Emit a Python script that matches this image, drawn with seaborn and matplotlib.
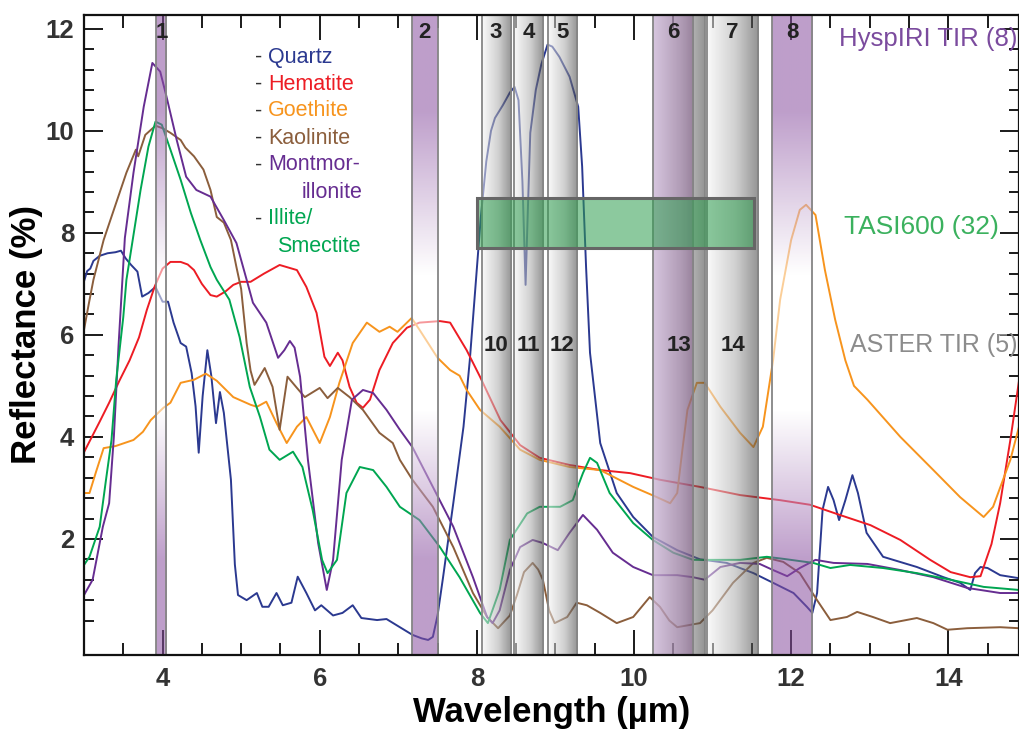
import numpy as np
import pandas as pd
import matplotlib
matplotlib.use("Agg")
import matplotlib.pyplot as plt
import matplotlib.transforms as mtransforms
from matplotlib.patches import Rectangle
from matplotlib.ticker import MultipleLocator, FixedLocator
import seaborn as sns

# ---------------- data ----------------
quartz_wl = [3.0, 3.04, 3.08, 3.12, 3.2, 3.3, 3.4, 3.47, 3.53, 3.6, 3.68, 3.74, 3.82, 3.91, 4.0, 4.07, 4.14, 4.23,
             4.3, 4.37, 4.42, 4.46, 4.51, 4.57, 4.62, 4.68, 4.73, 4.78, 4.87, 4.92, 4.96, 5.07, 5.2, 5.27, 5.35, 5.45,
             5.53, 5.64, 5.72, 5.83, 5.94, 6.02, 6.17, 6.29, 6.42, 6.53, 6.73, 6.85, 7.02, 7.18, 7.3, 7.38, 7.44, 7.5,
             7.57, 7.7, 7.83, 7.91, 8.0, 8.05, 8.12, 8.18, 8.23, 8.33, 8.42, 8.48, 8.53, 8.58, 8.62, 8.65, 8.68, 8.75,
             8.82, 8.9, 8.96, 9.05, 9.18, 9.29, 9.34, 9.39, 9.44, 9.57, 9.78, 9.99, 10.24, 10.55, 10.84, 11.18, 11.52,
             11.77, 12.03, 12.2, 12.27, 12.33, 12.4, 12.47, 12.54, 12.61, 12.69, 12.78, 12.85, 12.96, 13.17, 13.6,
             13.94, 14.15, 14.28, 14.34, 14.41, 14.5, 14.66, 14.9]
quartz_r = [7.05, 7.25, 7.3, 7.45, 7.55, 7.6, 7.62, 7.65, 7.5, 7.37, 7.24, 6.75, 6.82, 6.94, 6.65, 6.65, 6.24, 5.84,
            5.77, 5.25, 4.6, 3.69, 4.8, 5.7, 5.2, 4.27, 4.88, 4.47, 3.16, 1.5, 0.9, 0.8, 0.94, 0.67, 0.67, 0.94,
            0.7, 0.75, 1.26, 0.94, 0.6, 0.7, 0.5, 0.55, 0.7, 0.45, 0.41, 0.43, 0.27, 0.12, 0.05, 0.02, 0.08, 0.5,
            1.25, 2.7, 4.2, 5.5, 7.3, 8.3, 9.4, 10.0, 10.25, 10.5, 10.75, 10.86, 10.6, 9.0, 6.98, 8.5, 9.96, 10.8,
            11.3, 11.69, 11.65, 11.45, 11.06, 10.47, 9.3, 7.33, 5.65, 3.88, 2.9, 2.43, 2.04, 1.78, 1.6, 1.53, 1.33,
            1.14, 0.94, 0.67, 0.55, 0.94, 2.57, 3.02, 2.76, 2.37, 2.76, 3.25, 2.9, 2.12, 1.65, 1.45,
            1.25, 1.14, 1.0, 1.33, 1.45, 1.43, 1.29, 1.23]

hematite_wl = [3.0, 3.1, 3.2, 3.32, 3.45, 3.58, 3.7, 3.8, 3.9, 4.0, 4.1, 4.23, 4.32, 4.4, 4.5, 4.61, 4.69, 4.8, 4.9,
               5.0, 5.12, 5.29, 5.49, 5.71, 5.83, 5.96, 6.06, 6.13, 6.23, 6.29, 6.38, 6.47, 6.55, 6.64, 6.76, 6.93,
               7.11, 7.27, 7.53, 7.66, 7.87, 8.04, 8.3, 8.55, 8.8, 9.18, 9.57, 9.95, 10.33, 10.84, 11.35, 11.86, 12.24,
               12.62, 13.01, 13.39, 13.77, 14.03, 14.28, 14.41, 14.55, 14.66, 14.79, 14.9]
hematite_r = [3.7, 4.0, 4.3, 4.67, 5.1, 5.5, 5.95, 6.49, 6.95, 7.3, 7.43, 7.43, 7.38, 7.27, 7.0, 6.78, 6.75, 6.85, 6.98,
              7.04, 7.04, 7.2, 7.37, 7.27, 6.94, 6.43, 5.57, 5.39, 5.65, 5.5, 4.98, 4.67, 4.57, 4.73, 5.31, 5.84,
              6.14, 6.24, 6.27, 6.24, 5.7, 5.18, 4.33, 3.84, 3.59, 3.45, 3.35, 3.29, 3.16, 3.02, 2.86, 2.76, 2.67,
              2.47, 2.27, 1.98, 1.59, 1.35, 1.25, 1.27, 1.9, 2.7, 3.94, 5.1]

goethite_wl = [3.0, 3.07, 3.15, 3.25, 3.4, 3.63, 3.75, 3.85, 4.01, 4.1, 4.23, 4.4, 4.55, 4.69, 4.9, 5.12, 5.2, 5.32,
               5.45, 5.58, 5.71, 5.83, 6.0, 6.13, 6.25, 6.42, 6.6, 6.76, 6.89, 6.99, 7.17, 7.27, 7.5, 7.66, 7.78, 7.87,
               8.04, 8.29, 8.55, 8.8, 9.18, 9.57, 9.99, 10.29, 10.46, 10.55, 10.62, 10.68, 10.8, 10.9, 11.1, 11.35,
               11.52, 11.64, 11.77, 11.86, 12.0, 12.11, 12.19, 12.31, 12.43, 12.56, 12.69, 12.8, 12.97, 13.39, 13.81,
               14.15, 14.45, 14.57, 14.79, 14.9]
goethite_r = [2.9, 2.9, 3.3, 3.78, 3.82, 3.94, 4.1, 4.33, 4.57, 4.67, 5.06, 5.12, 5.24, 5.1, 4.78, 4.63, 4.59, 4.69,
              4.27, 3.88, 4.2, 4.39, 3.88, 4.39, 5.06, 5.84, 6.24, 6.06, 6.16, 6.06, 6.33, 6.1, 5.55, 5.31, 5.2, 4.92,
              4.53, 4.2, 3.75, 3.55, 3.41, 3.35, 3.02, 2.82, 2.7, 2.9, 3.8, 4.53, 5.06, 5.06, 4.59, 4.08,
              3.8, 4.2, 5.5, 6.69, 7.86, 8.45, 8.55, 8.35, 7.27, 6.3, 5.5, 5.0, 4.73, 4.0, 3.35,
              2.82, 2.43, 2.63, 3.55, 4.2]

kaolinite_wl = [3.0, 3.06, 3.12, 3.25, 3.41, 3.54, 3.66, 3.69, 3.78, 3.91, 4.0, 4.1, 4.23, 4.29, 4.4, 4.52, 4.61, 4.69,
                4.78, 4.87, 4.94, 5.0, 5.07, 5.12, 5.17, 5.3, 5.4, 5.49, 5.59, 5.71, 5.81, 6.0, 6.1, 6.23, 6.38, 6.55,
                6.76, 6.93, 7.02, 7.18, 7.44, 7.7, 7.95, 8.13, 8.27, 8.42, 8.51, 8.6, 8.71, 8.78, 8.84, 8.92, 8.99,
                9.15, 9.27, 9.4, 9.57, 9.78, 9.99, 10.2, 10.33, 10.45, 10.55, 10.84, 11.0, 11.26, 11.52, 11.69, 11.9,
                12.11, 12.33, 12.5, 12.71, 12.84, 13.04, 13.26, 13.6, 13.81, 13.99, 14.24, 14.66, 14.9]
kaolinite_r = [6.1, 6.6, 7.08, 7.86, 8.59, 9.18, 9.63, 9.5, 9.92, 10.1, 10.05, 9.96, 9.82, 9.67, 9.5, 9.24, 8.84, 8.31,
               8.2, 7.86, 7.33, 6.9, 5.84, 5.3, 5.02, 5.35, 4.98, 4.14, 5.18, 4.96, 4.78, 4.96, 4.76, 4.96, 4.78, 4.53,
               4.08, 3.88, 3.55, 3.16, 2.63, 1.84, 0.94, 0.47, 0.25, 0.5, 0.9, 1.35, 1.53, 1.4, 1.2, 0.6, 0.35,
               0.47, 0.75, 0.7, 0.55, 0.35, 0.47, 0.86, 0.67, 0.4, 0.27, 0.35, 0.6, 1.14, 1.53, 1.63, 1.55,
               1.33, 0.8, 0.41, 0.47, 0.57, 0.47, 0.35, 0.45, 0.35, 0.22, 0.25, 0.27, 0.25]

montmor_wl = [3.0, 3.11, 3.24, 3.32, 3.38, 3.44, 3.52, 3.63, 3.76, 3.87, 3.97, 4.05, 4.18, 4.3, 4.43, 4.61, 4.78, 4.94,
              5.07, 5.15, 5.32, 5.47, 5.55, 5.62, 5.68, 5.75, 5.85, 5.98, 6.09, 6.17, 6.28, 6.41, 6.55, 6.68, 6.85,
              7.02, 7.18, 7.44, 7.7, 7.95, 8.13, 8.2, 8.29, 8.42, 8.55, 8.71, 8.84, 9.03, 9.18, 9.35, 9.53, 9.73,
              9.99, 10.24, 10.55, 10.75, 10.9, 11.1, 11.35, 11.6, 11.77, 11.95, 12.11, 12.31, 12.54, 12.97, 13.39,
              13.81, 14.24, 14.66, 14.9]
montmor_r = [0.9, 1.2, 2.24, 2.7, 4.0, 5.8, 7.9, 9.18, 10.47, 11.33, 11.16, 10.67, 9.82, 9.1, 8.84, 8.71, 8.25, 7.8,
             7.08, 6.63, 6.24, 5.55, 5.7, 5.88, 5.75, 5.18, 3.55, 1.92, 1.0, 1.59, 3.55, 4.73, 4.92, 4.86, 4.53,
             4.14, 3.8, 3.02, 2.24, 1.25, 0.47, 0.35, 0.6, 1.39, 1.84, 1.98, 1.92, 1.78, 2.12, 2.47, 2.18, 1.73,
             1.45, 1.29, 1.29, 1.25, 1.2, 1.45, 1.53, 1.51, 1.39, 1.27, 1.43, 1.59, 1.53, 1.51, 1.39,
             1.25, 1.04, 0.94, 0.94]

illite_wl = [3.0, 3.07, 3.2, 3.28, 3.35, 3.41, 3.5, 3.54, 3.72, 3.82, 3.91, 3.99, 4.1, 4.23, 4.36, 4.48, 4.61, 4.69,
             4.85, 4.98, 5.11, 5.24, 5.36, 5.49, 5.66, 5.78, 5.91, 6.03, 6.1, 6.22, 6.34, 6.51, 6.68, 6.85, 7.02,
             7.27, 7.53, 7.78, 8.04, 8.14, 8.29, 8.42, 8.64, 8.8, 9.06, 9.22, 9.35, 9.44, 9.53, 9.69, 9.99, 10.24,
             10.5, 10.75, 11.0, 11.35, 11.69, 11.9, 12.28, 12.5, 12.75, 13.17, 13.6, 14.03, 14.45, 14.9]
illite_r = [1.49, 1.65, 2.24, 3.16, 3.94, 5.12, 6.35, 7.08, 8.84, 9.69, 10.18, 10.12, 9.63, 9.04, 8.39, 7.86, 7.33,
            7.08, 6.69, 5.96, 4.98, 4.39, 3.75, 3.55, 3.71, 3.41, 2.57, 1.59, 1.33, 1.59, 2.9, 3.41, 3.35, 3.02,
            2.63, 2.37, 1.84, 1.25, 0.55, 0.35, 1.0, 1.98, 2.5, 2.63, 2.63, 2.76, 3.29, 3.59, 3.49, 2.9, 2.31,
            1.98, 1.73, 1.59, 1.59, 1.59, 1.65, 1.61, 1.53, 1.43, 1.49, 1.43, 1.33, 1.2, 1.06, 1.0]

minerals = ["Quartz", "Hematite", "Goethite", "Kaolinite", "Montmorillonite", "Illite/Smectite"]
mineral_colors = ["#2b3990", "#ed1c24", "#f7941d", "#8b5e3c", "#662d91", "#00a651"]

# HyspIRI TIR bands (8)
hyspiri_labels = ["1", "2", "3", "4", "5", "6", "7", "8"]
hyspiri_start = [3.92, 7.17, 8.06, 8.47, 8.90, 10.24, 10.93, 11.76]
hyspiri_end = [4.05, 7.50, 8.43, 8.84, 9.27, 10.75, 11.58, 12.27]
# ASTER TIR bands (5)
aster_labels = ["10", "11", "12", "13", "14"]
aster_start = [8.06, 8.47, 8.90, 10.24, 10.93]
aster_end = [8.43, 8.84, 9.27, 10.90, 11.58]
# TASI600 range (32 bands)
tasi_wl = [8.0, 11.53]
tasi_level = [7.7, 8.68]

x_ticks = [4, 6, 8, 10, 12, 14]
y_ticks = [2, 4, 6, 8, 10, 12]

# ---------------- style ----------------
sns.set_theme(style="ticks")
plt.rcParams["font.family"] = ["Liberation Sans", "DejaVu Sans"]

XLIM = (3.0, 14.9)
YLIM = (-0.275, 12.27)

fig = plt.figure(figsize=(10.2, 7.33), dpi=100)
ax = fig.add_axes([84 / 1020, 1 - 655 / 733, (1019 - 84) / 1020, (655 - 15) / 733])

# ---------------- curves ----------------
frames = []
for name, wl, r in zip(minerals,
                       [quartz_wl, hematite_wl, goethite_wl, kaolinite_wl, montmor_wl, illite_wl],
                       [quartz_r, hematite_r, goethite_r, kaolinite_r, montmor_r, illite_r]):
    frames.append(pd.DataFrame({"wl": wl, "refl": r, "mineral": name}))
df = pd.concat(frames, ignore_index=True)
sns.lineplot(data=df, x="wl", y="refl", hue="mineral", palette=dict(zip(minerals, mineral_colors)),
             estimator=None, sort=False, legend=False, lw=1.4, ax=ax, zorder=2)

# ---------------- bands ----------------
OVER_A = 0.55
purple = np.array([137, 79, 160]) / 255.0
white = np.ones(3)


def vertical_purple(x0, x1):
    ys = np.linspace(YLIM[1], YLIM[0], 400)
    t = np.interp(ys, [YLIM[0], 1.6, 4.5, 7.2, 10.4, YLIM[1]], [1, 1, 0, 0, 1, 1])
    rgb = t[:, None] * purple + (1 - t[:, None]) * white
    img = np.concatenate([rgb, np.full((len(ys), 1), OVER_A)], axis=1)[:, None, :]
    ax.imshow(img, extent=[x0, x1, YLIM[0], YLIM[1]], aspect="auto", origin="upper",
              interpolation="bilinear", zorder=3)


def horizontal_grad(x0, x1, stops, values, alpha):
    xs = np.linspace(0, 1, 200)
    rgb = np.stack([np.interp(xs, stops, [v[c] for v in values]) for c in range(3)], axis=1) / 255.0
    img = np.concatenate([rgb, np.full((len(xs), 1), alpha)], axis=1)[None, :, :]
    ax.imshow(img, extent=[x0, x1, YLIM[0], YLIM[1]], aspect="auto", origin="upper",
              interpolation="bilinear", zorder=3)


for a0, a1 in zip(aster_start, aster_end):
    horizontal_grad(a0, a1, [0, 0.55, 0.85, 1],
                    [(246, 246, 246), (170, 170, 170), (95, 95, 95), (60, 60, 60)], OVER_A)

hyspiri_purple = [True, True, False, False, False, True, False, True]
for lab, h0, h1, isp in zip(hyspiri_labels, hyspiri_start, hyspiri_end, hyspiri_purple):
    if not isp:
        continue
    if any(a0 <= h0 < a1 for a0, a1 in zip(aster_start, aster_end)):
        horizontal_grad(h0, h1, [0, 1], [(180, 146, 196), (128, 84, 136)], 0.5)
    else:
        vertical_purple(h0, h1)

edges = sorted(set(aster_start + aster_end + hyspiri_start + hyspiri_end))
for e in edges:
    ax.axvline(e, color="#858585", lw=1.3, zorder=4)

# TASI600 box
ax.add_patch(Rectangle((tasi_wl[0], tasi_level[0]), tasi_wl[1] - tasi_wl[0], tasi_level[1] - tasi_level[0],
                       facecolor=(0.18, 0.62, 0.31, 0.55), edgecolor="#666666", lw=2.2, zorder=5))

# ---------------- axes ----------------
ax.set_xlim(*XLIM)
ax.set_ylim(*YLIM)
ax.set_aspect("auto")
ax.set_xticks(x_ticks)
ax.set_yticks(y_ticks)
ax.xaxis.set_minor_locator(MultipleLocator(0.5))
ax.yaxis.set_minor_locator(FixedLocator(np.arange(0.4, 12.3, 0.4)))
ax.set_xticklabels([str(v) for v in x_ticks], fontsize=18.5, fontweight="bold", color="#333333")
ax.set_yticklabels([str(v) for v in y_ticks], fontsize=18.5, fontweight="bold", color="#333333")
ax.tick_params(axis="both", which="both", direction="in", top=True, right=True, width=1.4, color="#1a1a1a",
               zorder=6)
ax.tick_params(axis="x", which="major", length=18, pad=9)
ax.tick_params(axis="x", which="minor", length=9)
ax.tick_params(axis="y", which="major", length=14, pad=7)
ax.tick_params(axis="y", which="minor", length=7)
for s in ax.spines.values():
    s.set_linewidth(1.6)
    s.set_color("#111111")
    s.set_zorder(7)

ax.set_xlabel("Wavelength (µm)", fontsize=25, fontweight="bold", color="black", labelpad=3)
ax.set_ylabel("Reflectance (%)", fontsize=25, fontweight="bold", color="black", labelpad=2)

# band labels
trans = mtransforms.blended_transform_factory(ax.transData, ax.transAxes)
for lab, h0, h1 in zip(hyspiri_labels, hyspiri_start, hyspiri_end):
    ax.text((h0 + h1) / 2, 0.972, lab, transform=trans, ha="center", va="center",
            fontsize=16, fontweight="bold", color="#222222", zorder=8)
for lab, a0, a1 in zip(aster_labels, aster_start, aster_end):
    ax.text((a0 + a1) / 2, 0.484, lab, transform=trans, ha="center", va="center",
            fontsize=16, fontweight="bold", color="#222222", zorder=8)

# sensor labels
ax.text(0.998, 0.962, "HyspIRI TIR (8)", transform=ax.transAxes, ha="right", va="center",
        fontsize=18.5, color="#7b4b9e", zorder=8)
ax.text(0.979, 0.669, "TASI600 (32)", transform=ax.transAxes, ha="right", va="center",
        fontsize=19, color="#3bb15e", zorder=8)
ax.text(0.998, 0.484, "ASTER TIR (5)", transform=ax.transAxes, ha="right", va="center",
        fontsize=18, color="#8c8c8c", zorder=8)

# text legend
legend_lines = [("Quartz", None), ("Hematite", None), ("Goethite", None), ("Kaolinite", None),
                ("Montmor-", "illonite"), ("Illite/", "Smectite")]
ypix = 57
for (first, second), col in zip(legend_lines, mineral_colors):
    yf = (655 - ypix) / 640
    ax.text(0.183, yf, "-", transform=ax.transAxes, ha="left", va="center", fontsize=15.5, color="#333333",
            zorder=8)
    ax.text(0.1966, yf, first, transform=ax.transAxes, ha="left", va="center", fontsize=15.5, color=col, zorder=8)
    ypix += 27
    if second is not None:
        yf = (655 - ypix) / 640
        if second == "illonite":
            ax.text(0.298, yf, second, transform=ax.transAxes, ha="right", va="center", fontsize=15.5,
                    color=col, zorder=8)
        else:
            ax.text(0.206, yf, second, transform=ax.transAxes, ha="left", va="center", fontsize=15.5,
                    color=col, zorder=8)
        ypix += 27

fig.savefig("out.png", dpi=100)
